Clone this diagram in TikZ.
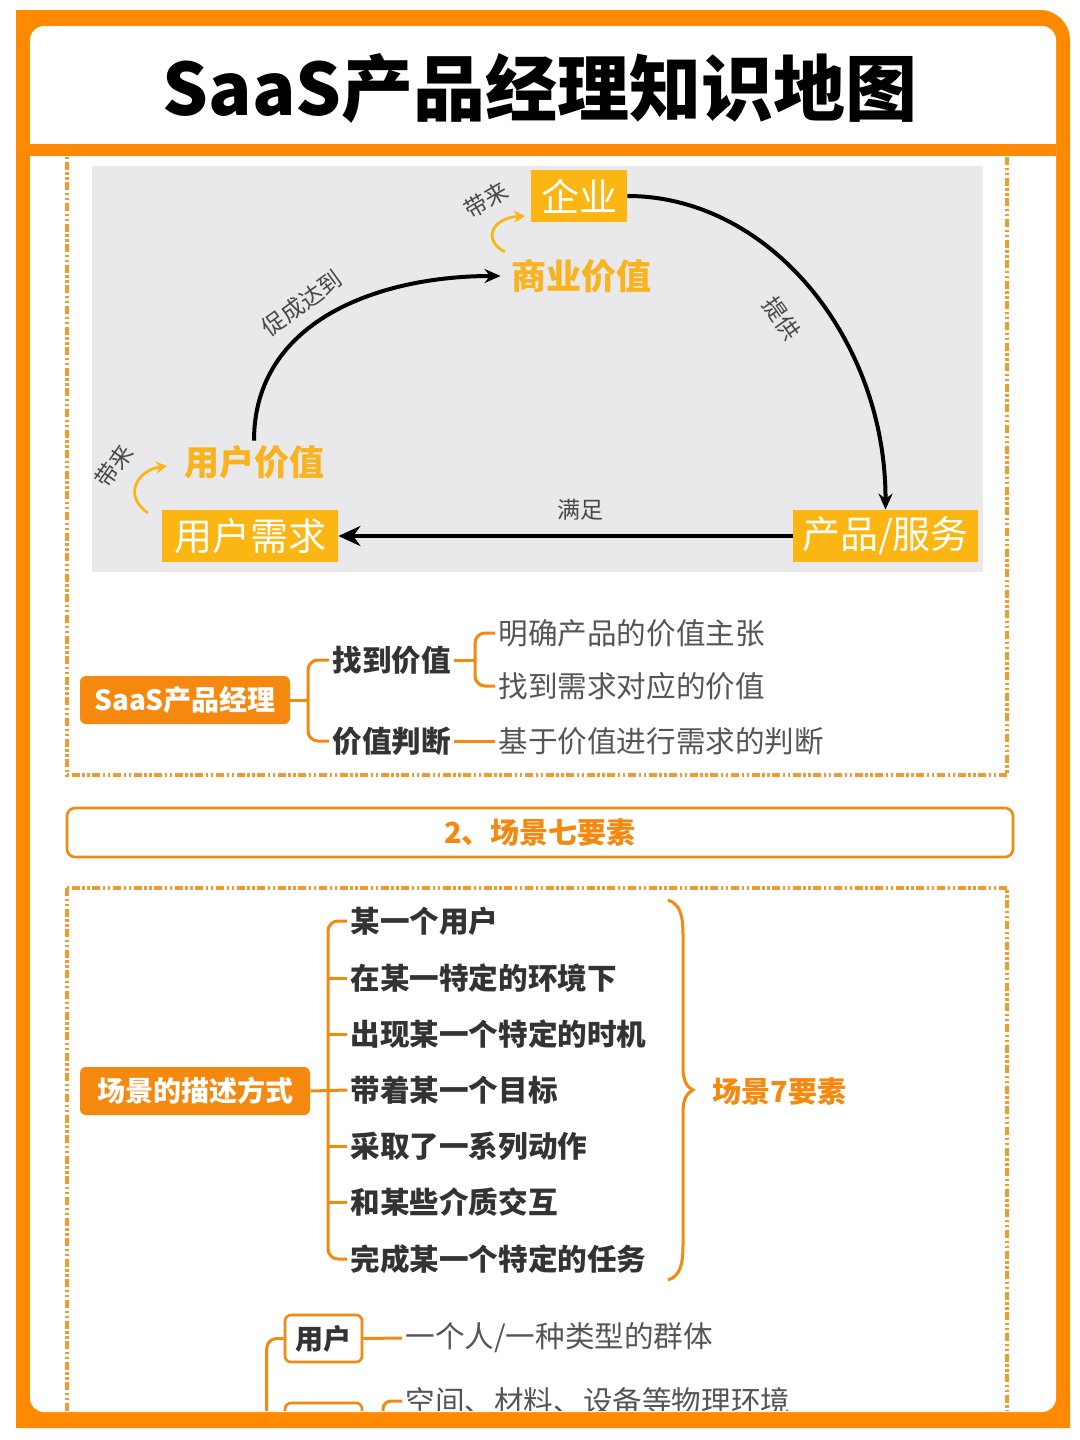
\documentclass[tikz,border=0pt]{standalone}
\usepackage{fontspec}
\setmainfont{Noto Sans CJK SC}
\usetikzlibrary{arrows.meta}
\definecolor{frameor}{HTML}{FF8A00}
\definecolor{dashor}{HTML}{F29A2E}
\definecolor{mmor}{HTML}{F5880F}
\definecolor{yel}{HTML}{FBB614}
\definecolor{yeltext}{HTML}{F8B31F}
\definecolor{graybg}{HTML}{E9E9EB}
\definecolor{darktext}{HTML}{333333}
\definecolor{greytext}{HTML}{555555}
\newcommand\myfs[1]{\fontsize{#1pt}{#1pt}\selectfont}
\begin{document}
\begin{tikzpicture}[x=0.5pt,y=-0.5pt,
  ybox/.style={fill=yel,text=white,inner sep=0pt,minimum height=26pt,font=\myfs{19}},
  ytext/.style={text=yeltext,inner sep=0pt,font=\myfs{17.5}\bfseries},
  lbl/.style={text=darktext!90,inner sep=0pt,font=\myfs{11.5}},
  blkarr/.style={line width=2pt,draw=black,-{Stealth[length=8pt,width=7pt]}},
  yarr/.style={line width=1.4pt,draw=yel,-{Stealth[length=5.5pt,width=6pt]}},
  rootbox/.style={fill=mmor,text=white,rounded corners=3pt,inner sep=0pt,minimum height=24pt,font=\myfs{14}\bfseries},
  btext/.style={text=darktext,inner xsep=1.5pt,inner ysep=0pt,font=\myfs{14.8}\bfseries},
  ntext/.style={text=greytext,inner xsep=1.5pt,inner ysep=0pt,font=\myfs{14.8}},
  mmline/.style={draw=mmor,line width=1.5pt,rounded corners=5pt},
  dashbox/.style={draw=dashor,line width=1.6pt,dash pattern=on 4pt off 1.3pt on 1.2pt off 1.3pt on 1.2pt off 1.3pt},
  obox/.style={draw=mmor,line width=1.3pt,rounded corners=3pt,fill=white,inner sep=0pt,minimum width=38.5pt,minimum height=23.5pt,text=darktext,font=\myfs{14}\bfseries}
]
\useasboundingbox (0,0) rectangle (1080,1440);
\fill[white] (0,0) rectangle (1080,1440);
% outer frame
\fill[frameor] (16,10) -- (1040,10) .. controls (1056.5,10) and (1070,23.5) .. (1070,40) -- (1070,1428) -- (16,1428) -- cycle;
\fill[white,rounded corners=7pt] (30,26) rectangle (1056,1412);
\fill[frameor] (30,144) rectangle (1056,156);
\node[inner sep=0pt,text=black] (title) at (540,88) {\myfs{36}\bfseries SaaS产品经理知识地图};

\begin{scope}
\clip (30,156) rectangle (1056,1410);
% section 1 dashed frame
\draw[dashbox] (67,100) rectangle (1007,775);
% gray picture
\fill[graybg] (92,166) rectangle (983,572);
\node[ybox,minimum width=48pt] (qy) at (579,196) {企业};
\node[ytext] (syjz) at (581,276) {商业价值};
\node[ytext] (yhjz) at (254,462) {用户价值};
\node[ybox,minimum width=88pt] (yhxq) at (250,536) {用户需求};
\node[ybox,minimum width=92.5pt] (cpfw) at (885.5,536) {产品/服务};
\node[lbl,rotate=30] (dl1) at (486,200) {带来};
\node[lbl,rotate=55] (dl2) at (114,466) {带来};
\node[lbl] (mz) at (580,510) {满足};
\node[lbl,rotate=36] (cc) at (302,303) {促成达到};
\node[lbl,rotate=-55] (tg) at (782,318) {提供};
\draw[line width=2.1pt,-{Stealth[length=11pt,width=10pt]}] (cpfw.west) -- (yhxq.east);
\draw[blkarr] (qy.east) .. controls (770,196) and (886,340) .. (cpfw.north);
\draw[blkarr,shorten <=2pt,shorten >=5pt] (yhjz.north) .. controls (254,320) and (380,276) .. (syjz.west);
\coordinate (ya1s) at (505,252);
\coordinate (ya1e) at (525,216);
\draw[yarr] (ya1s) .. controls (482,240) and (492,218) .. (ya1e);
\coordinate (ya2s) at (148,513);
\coordinate (ya2e) at (167,466);
\draw[yarr] (ya2s) .. controls (122,495) and (138,470) .. (ya2e);

% mind map 1
\node[rootbox,minimum width=105pt] (r1) at (185,700) {SaaS产品经理};
\node[btext,anchor=west] (f1) at (329,660) {找到价值};
\node[btext,anchor=west] (f2) at (329,741) {价值判断};
\node[ntext,anchor=west] (l1) at (495,633) {明确产品的价值主张};
\node[ntext,anchor=west] (l2) at (495,686) {找到需求对应的价值};
\node[ntext,anchor=west] (l3) at (495,741) {基于价值进行需求的判断};
\draw[mmline] (r1.east) -- ++(18,0);
\draw[mmline] (f1.west) -- ++(-21,0) |- (f2.west);
\draw[mmline] (f1.east) -- ++(20,0);
\draw[mmline] (l1.west) -- ++(-20,0) |- (l2.west);
\draw[mmline] (f2.east) -- (l3.west);

% section header
\node[draw=mmor,line width=1.3pt,rounded corners=4pt,minimum width=473pt,minimum height=24.5pt,inner sep=0pt,text=mmor,font=\myfs{14.5}\bfseries] (h2) at (540,832.5) {2、场景七要素};

% section 2
\draw[dashbox] (67,888) rectangle (1007,1520);
\node[rootbox,minimum width=115pt] (r2) at (195,1091) {场景的描述方式};
\node[btext,anchor=west] (i1) at (347,921) {某一个用户};
\node[btext,anchor=west] (i2) at (347,978) {在某一特定的环境下};
\node[btext,anchor=west] (i3) at (347,1034) {出现某一个特定的时机};
\node[btext,anchor=west] (i4) at (347,1090) {带着某一个目标};
\node[btext,anchor=west] (i5) at (347,1146) {采取了一系列动作};
\node[btext,anchor=west] (i6) at (347,1202) {和某些介质交互};
\node[btext,anchor=west] (i7) at (347,1259) {完成某一个特定的任务};
\draw[mmline] (i1.west) -- ++(-19,0) |- (i7.west);
\foreach \n in {i2,i3,i5,i6} \draw[mmline] (\n.west) -- ++(-19,0);
\draw[mmline] (r2.east) -- (i4.west);
\draw[draw=mmor,line width=1.5pt] (668,900) .. controls (680,904) and (683,915) .. (683,935) -- (683,1068) .. controls (683,1081) and (687,1087) .. (693,1090) .. controls (687,1093) and (683,1099) .. (683,1112) -- (683,1245) .. controls (683,1265) and (680,1276) .. (668,1280);
\node[inner sep=0pt,anchor=west,text=mmor,font=\myfs{14.5}\bfseries] (s7) at (712,1091) {场景7要素};

% bottom part
\node[obox] (u1) at (323.5,1338.5) {用户};
\node[ntext,anchor=west] (u1t) at (402,1338) {一个人/一种类型的群体};
\draw[mmline] (u1.east) -- (u1t.west);
\draw[mmline] (u1.west) -- ++(-17,0) -- ++(0,150);
\node[obox] (u2) at (323.5,1426.5) {};
\node[ntext,anchor=west] (u2t) at (402,1401) {空间、材料、设备等物理环境};
\draw[mmline,rounded corners=4pt] (u2t.west) -- ++(-19,0) -- ++(0,60);
\end{scope}
\end{tikzpicture}
\end{document}
